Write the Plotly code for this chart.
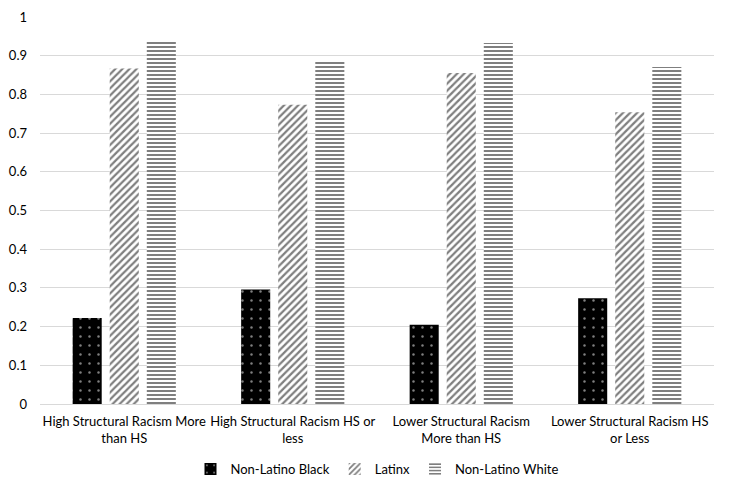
import plotly.graph_objects as go

categories = [
    "High Structural Racism More<br>than HS",
    "High Structural Racism HS or<br>less",
    "Lower Structural Racism<br>More than HS",
    "Lower Structural Racism HS<br>or Less",
]
black = [0.222, 0.296, 0.205, 0.273]
latinx = [0.867, 0.773, 0.855, 0.754]
white = [0.937, 0.886, 0.933, 0.871]
tick_vals = [0, 0.1, 0.2, 0.3, 0.4, 0.5, 0.6, 0.7, 0.8, 0.9, 1]
tick_text = ["0", "0.1", "0.2", "0.3", "0.4", "0.5", "0.6", "0.7", "0.8", "0.9", "1"]

fig = go.Figure()
fig.add_trace(go.Bar(
    x=categories, y=black, name="Non-Latino Black",
    marker=dict(color="black", line=dict(width=0),
                pattern=dict(shape=".", fgcolor="white", bgcolor="black", size=9, solidity=0.06)),
))
fig.add_trace(go.Bar(
    x=categories, y=latinx, name="Latinx",
    marker=dict(color="white", line=dict(width=0),
                pattern=dict(shape="/", fgcolor="black", bgcolor="white", size=5, solidity=0.45)),
))
fig.add_trace(go.Bar(
    x=categories, y=white, name="Non-Latino White",
    marker=dict(color="white", line=dict(width=0),
                pattern=dict(shape="-", fgcolor="black", bgcolor="white", size=4, solidity=0.5)),
))

fig.update_layout(
    width=723, height=485,
    margin=dict(l=32, r=17, t=9, b=89, autoexpand=False),
    paper_bgcolor="white", plot_bgcolor="white",
    barmode="group", bargap=0.34, bargroupgap=0.216,
    font=dict(family="Lato", size=13, color="black"),
    showlegend=True,
    legend=dict(orientation="h", x=0.5, xanchor="center", y=-0.168, yanchor="middle",
                font=dict(size=13), itemwidth=30, traceorder="normal"),
    xaxis=dict(showgrid=False, showline=False, ticks="", tickfont=dict(size=13),
               automargin=False, ticklabelstandoff=8),
    yaxis=dict(range=[0, 1], tickvals=tick_vals, ticktext=tick_text,
               showgrid=True, gridcolor="#d9d9d9", gridwidth=1, zeroline=True,
               zerolinecolor="#d9d9d9", zerolinewidth=1, showline=False,
               ticks="", ticklabelstandoff=12, tickfont=dict(size=13), automargin=False),
)

fig.write_html("out.html")
